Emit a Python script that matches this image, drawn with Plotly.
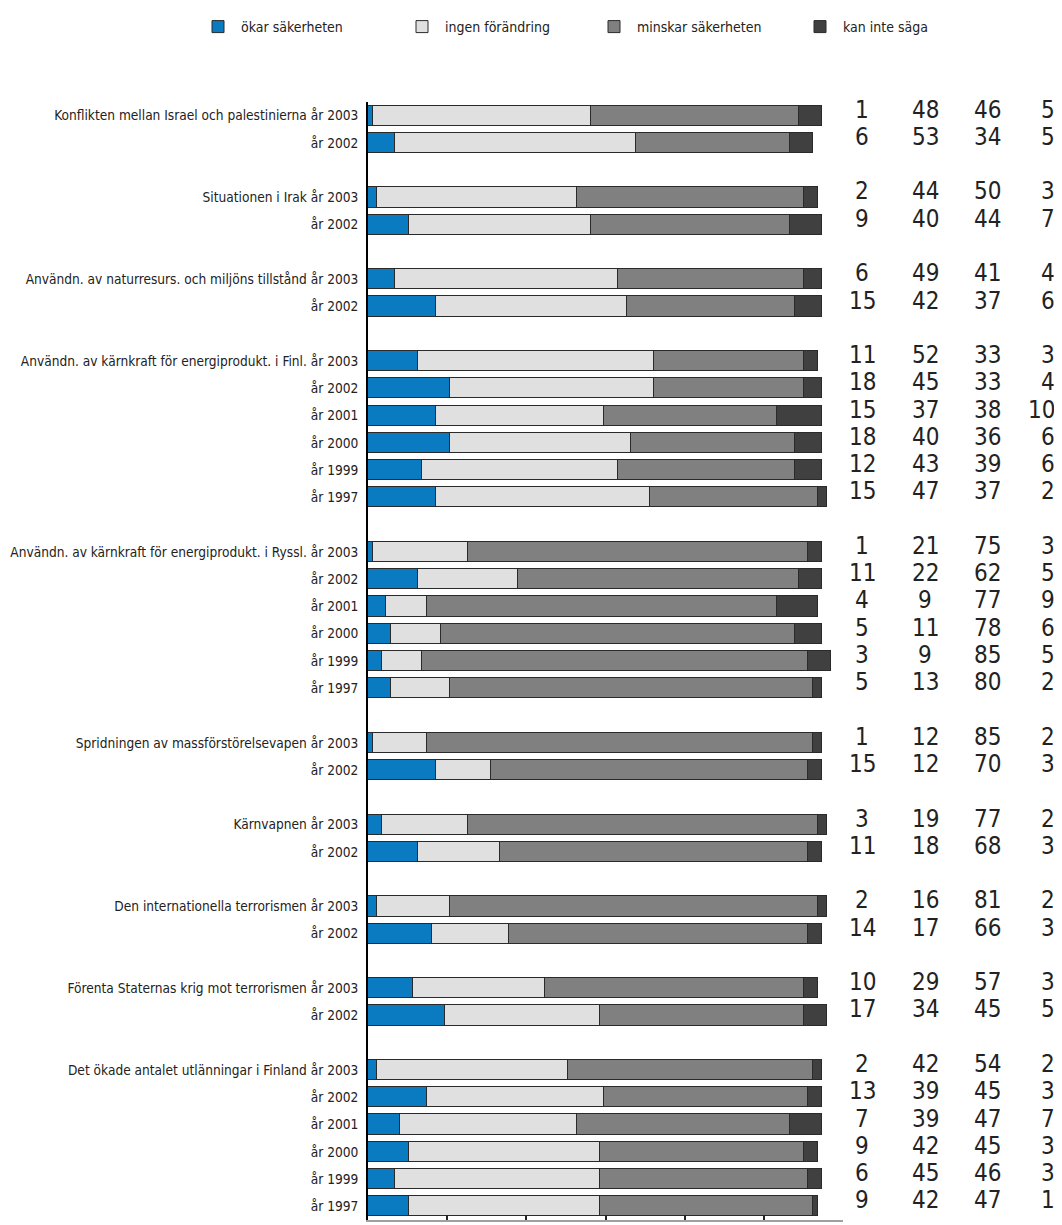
import plotly.graph_objects as go

# ---------------- data ----------------
topics = [
    "Konflikten mellan Israel och palestinierna",
    "Situationen i Irak",
    "Användn. av naturresurs. och miljöns tillstånd",
    "Användn. av kärnkraft för energiprodukt. i Finl.",
    "Användn. av kärnkraft för energiprodukt. i Ryssl.",
    "Spridningen av massförstörelsevapen",
    "Kärnvapnen",
    "Den internationella terrorismen",
    "Förenta Staternas krig mot terrorismen",
    "Det ökade antalet utlänningar i Finland",
]
years = [
    ["2003", "2002"],
    ["2003", "2002"],
    ["2003", "2002"],
    ["2003", "2002", "2001", "2000", "1999", "1997"],
    ["2003", "2002", "2001", "2000", "1999", "1997"],
    ["2003", "2002"],
    ["2003", "2002"],
    ["2003", "2002"],
    ["2003", "2002"],
    ["2003", "2002", "2001", "2000", "1999", "1997"],
]
okar = [1, 6, 2, 9, 6, 15, 11, 18, 15, 18, 12, 15, 1, 11, 4, 5, 3, 5,
        1, 15, 3, 11, 2, 14, 10, 17, 2, 13, 7, 9, 6, 9]
ingen = [48, 53, 44, 40, 49, 42, 52, 45, 37, 40, 43, 47, 21, 22, 9, 11, 9, 13,
         12, 12, 19, 18, 16, 17, 29, 34, 42, 39, 39, 42, 45, 42]
minskar = [46, 34, 50, 44, 41, 37, 33, 33, 38, 36, 39, 37, 75, 62, 77, 78, 85, 80,
           85, 70, 77, 68, 81, 66, 57, 45, 54, 45, 47, 45, 46, 47]
kan = [5, 5, 3, 7, 4, 6, 3, 4, 10, 6, 6, 2, 3, 5, 9, 6, 5, 2,
       2, 3, 2, 3, 2, 3, 3, 5, 2, 3, 7, 3, 3, 1]
series_names = ["ökar säkerheten", "ingen förändring", "minskar säkerheten", "kan inte säga"]
series_colors = ["#0A7BC1", "#E0E0E0", "#808080", "#404040"]

# ---------------- layout of rows ----------------
ypos, ylabels, sep_pos = [], [], []
slot = 0
for gi, (t, ys) in enumerate(zip(topics, years)):
    for k, yr in enumerate(ys):
        ypos.append(slot)
        ylabels.append(f"{t} år {yr}" if k == 0 else f"år {yr}")
        slot += 1
    if gi < len(topics) - 1:
        sep_pos.append(slot)
        slot += 1
n_slots = slot

FONT = "DejaVu Sans Condensed, DejaVu Sans, sans-serif"
XMAX = 104.6
W, H = 1062, 1225

legend_ids = ["legend", "legend2", "legend3", "legend4"]
legend_x = [187, 391, 583, 789]

fig = go.Figure()
for name, vals, col, lid in zip(series_names, [okar, ingen, minskar, kan], series_colors, legend_ids):
    fig.add_trace(go.Bar(
        x=vals, y=ypos, orientation="h", name=name, legend=lid,
        marker=dict(color=col, line=dict(color="#2a2a2a", width=1)),
        width=0.74, hoverinfo="skip",
    ))

# right-hand number columns
col_x = [1.040, 1.173, 1.305, 1.451]
col_anchor = ["center", "center", "center", "right"]
annotations = []
for vals, cx, anc in zip([okar, ingen, minskar, kan], col_x, col_anchor):
    for v, yp in zip(vals, ypos):
        annotations.append(dict(
            x=cx, xref="paper", y=yp, yref="y", text=str(v), showarrow=False,
            xanchor=anc, yanchor="middle", yshift=6,
            font=dict(family=FONT, size=24, color="#222222"),
        ))

legend_layout = {}
for lid, lx in zip(legend_ids, legend_x):
    legend_layout[lid] = dict(
        orientation="h", xref="container", yref="container",
        x=lx / W, xanchor="left", y=1 - 19 / H, yanchor="middle",
        font=dict(family=FONT, size=14, color="#222222"),
        bgcolor="rgba(0,0,0,0)", itemwidth=36,
        itemclick=False, itemdoubleclick=False,
    )

fig.update_layout(
    width=W, height=H,
    margin=dict(l=360, r=W - 835, t=94, b=13, autoexpand=False),
    paper_bgcolor="white", plot_bgcolor="white",
    barmode="stack", bargap=0,
    font=dict(family=FONT, size=13.6, color="#222222"),
    showlegend=True,
    xaxis=dict(
        range=[0, XMAX], showgrid=False, zeroline=False,
        showline=True, linecolor="#a0a0a0", linewidth=2,
        ticks="inside", ticklen=5, tickcolor="#222222", tickwidth=2,
        tickvals=[XMAX * i / 6 for i in range(1, 6)], showticklabels=False,
    ),
    xaxis2=dict(
        overlaying="x", anchor="free", position=0.0215, side="bottom",
        range=[0, XMAX], showgrid=False, zeroline=False, showline=False,
        ticks="inside", ticklen=5, tickcolor="#222222", tickwidth=2,
        tickvals=[XMAX * i / 6 for i in range(1, 6)], showticklabels=False,
    ),
    yaxis=dict(
        range=[n_slots - 0.5, -0.5], tickvals=ypos, ticktext=ylabels,
        showgrid=False, zeroline=False, showline=True, linecolor="#000000",
        linewidth=2, ticks="", ticklabelstandoff=5,
        tickfont=dict(family=FONT, size=13.6, color="#222222"),
    ),
    yaxis2=dict(
        overlaying="y", anchor="x", side="left",
        range=[n_slots - 0.5, -0.5], tickvals=sep_pos, showticklabels=False,
        showgrid=False, zeroline=False, showline=False,
        ticks="inside", ticklen=10, tickcolor="#000000", tickwidth=2,
    ),
    annotations=annotations,
    **legend_layout,
)

fig.write_html("out.html")
